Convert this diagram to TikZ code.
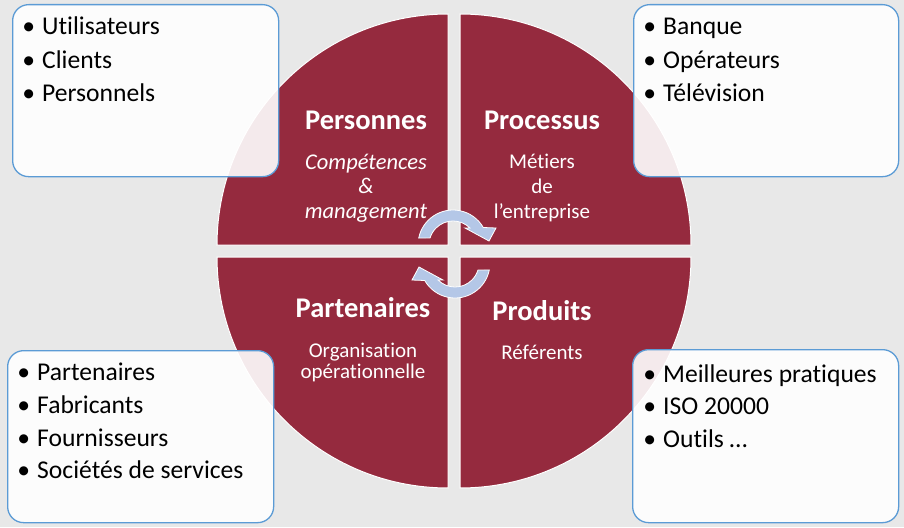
\documentclass[tikz,border=0pt]{standalone}
\usepackage{fontspec}
\setmainfont{Carlito}[Ligatures=NoCommon]
\definecolor{bg}{RGB}{232,232,232}
\definecolor{wine}{RGB}{149,42,62}
\definecolor{frame}{RGB}{91,155,213}
\definecolor{cyc}{RGB}{180,199,231}
\begin{document}
\begin{tikzpicture}[x=1pt,y=-1pt,
  quad/.style={fill=wine, draw=white, line width=1pt},
  listbox/.style={draw=frame, line width=1.3pt, fill=white, fill opacity=0.9,
    rounded corners=16pt, inner sep=0pt, anchor=north west},
  item/.style={anchor=base west, inner sep=0pt, text=black,
    font=\fontsize{25.6}{30}\selectfont},
  head/.style={anchor=base, inner sep=0pt, text=white,
    font=\fontsize{28.5}{34}\selectfont\bfseries},
  sub/.style={anchor=base, inner sep=0pt, text=white,
    font=\fontsize{21}{25}\selectfont},
  subit/.style={sub, font=\fontsize{22.5}{26}\selectfont\itshape},
  cycarrow/.style={fill=cyc, draw=white, line width=0.8pt}]

% canvas
\fill[bg] (0,0) rectangle (904,527);
\useasboundingbox (0,0) rectangle (904,527);

% the four quarters of the disc
\draw[quad] (448,245) -- (217,245) arc[start angle=180,end angle=270,radius=231] -- cycle;
\draw[quad] (460,245) -- (691,245) arc[start angle=0,end angle=-90,radius=231] -- cycle;
\draw[quad] (448,257) -- (217,257) arc[start angle=180,end angle=90,radius=231] -- cycle;
\draw[quad] (460,257) -- (691,257) arc[start angle=0,end angle=90,radius=231] -- cycle;

% circular arrows in the middle
\begin{scope}[shift={(453,245)}]
  \draw[cycarrow] (191.5:35) arc[start angle=191.5,end angle=330,radius=35]
    -- (43,-17) -- (36,-4) -- (12,-17) -- (315:24)
    arc[start angle=315,end angle=197,radius=24] -- cycle;
\end{scope}
\begin{scope}[shift={(455,263)},rotate=180]
  \draw[cycarrow] (191.5:35) arc[start angle=191.5,end angle=330,radius=35]
    -- (43,-17) -- (36,-4) -- (12,-17) -- (315:24)
    arc[start angle=315,end angle=197,radius=24] -- cycle;
\end{scope}

% quarter labels
\node[head] (pers) at (366,129) {Personnes};
\node[subit] (comp) at (366,169) {Compétences};
\node[subit] (amp) at (366,193) {\&};
\node[subit] (mgmt) at (366,218) {management};

\node[head] (proc) at (542,129) {Processus};
\node[sub] (met) at (542,168) {Métiers};
\node[sub] (de) at (542,193) {de};
\node[sub] (entr) at (542,218) {l’entreprise};

\node[head] (part) at (363,317) {Partenaires};
\node[sub] (orga) at (363,357) {Organisation};
\node[sub] (oper) at (363,378) {opérationnelle};

\node[head] (prod) at (542,320) {Produits};
\node[sub] (ref) at (542,359) {Référents};

% corner lists
\node[listbox, minimum width=266pt, minimum height=172pt] (tlbox) at (12,4) {};
\node[listbox, minimum width=265pt, minimum height=172pt] (trbox) at (633,4) {};
\node[listbox, minimum width=266pt, minimum height=172pt] (blbox) at (7,350) {};
\node[listbox, minimum width=266pt, minimum height=173pt] (brbox) at (632,349) {};

\node[item] (tl1) at (42,35) {\llap{•\hspace{7pt}}Utilisateurs};
\node[item] (tl2) at (42,68) {\llap{•\hspace{7pt}}Clients};
\node[item] (tl3) at (42,101) {\llap{•\hspace{7pt}}Personnels};

\node[item] (tr1) at (663,35) {\llap{•\hspace{7pt}}Banque};
\node[item] (tr2) at (663,68) {\llap{•\hspace{7pt}}Opérateurs};
\node[item] (tr3) at (663,101) {\llap{•\hspace{7pt}}Télévision};

\node[item] (bl1) at (37,380) {\llap{•\hspace{7pt}}Partenaires};
\node[item] (bl2) at (37,413) {\llap{•\hspace{7pt}}Fabricants};
\node[item] (bl3) at (37,446) {\llap{•\hspace{7pt}}Fournisseurs};
\node[item] (bl4) at (37,478) {\llap{•\hspace{7pt}}Sociétés de services};

\node[item] (br1) at (663,382) {\llap{•\hspace{7pt}}Meilleures pratiques};
\node[item] (br2) at (663,414) {\llap{•\hspace{7pt}}ISO 20000};
\node[item] (br3) at (663,447) {\llap{•\hspace{7pt}}Outils …};
\end{tikzpicture}
\end{document}
